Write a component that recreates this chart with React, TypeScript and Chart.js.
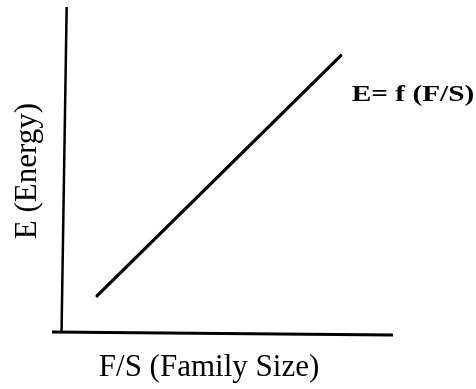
import { useEffect, useRef } from "react";
import { Chart, registerables } from "chart.js";

Chart.register(...registerables);

// Axis lines (diagram units, 0..100 on both axes)
const xAxisX = [0, 100];
const xAxisE = [0.9, 0];
const yAxisX = [2.8, 4.3];
const yAxisE = [0.9, 100];

// The function line E = f(F/S)
const fsValues = [13.2, 84.7];
const energyValues = [11.9, 85.2];

const functionLabel = "E= f (F/S)";
const xTitle = "F/S (Family Size)";
const yTitle = "E (Energy)";

const toPoints = (xs: number[], ys: number[]) => xs.map((x, i) => ({ x, y: ys[i] }));

const textPlugin = {
  id: "diagramText",
  afterDatasetsDraw(chart: any) {
    const { ctx, chartArea, scales } = chart;
    ctx.save();
    ctx.fillStyle = "#000";
    ctx.textBaseline = "alphabetic";

    // x title
    ctx.font = "31px 'Liberation Serif'";
    ctx.textAlign = "center";
    ctx.fillText(xTitle, chartArea.left + 157, chartArea.bottom + 41);

    // y title
    ctx.save();
    ctx.translate(36, (chartArea.top + chartArea.bottom) / 2);
    ctx.rotate(-Math.PI / 2);
    ctx.fillText(yTitle, 0, 0);
    ctx.restore();

    // function label, anchored to the end of the line
    const px = scales.x.getPixelForValue(fsValues[fsValues.length - 1]);
    const py = scales.y.getPixelForValue(energyValues[energyValues.length - 1]);
    ctx.save();
    ctx.translate(px + 11, py + 45.5);
    ctx.scale(1.22, 1);
    ctx.font = "bold 24px 'Liberation Serif'";
    ctx.textAlign = "left";
    ctx.fillText(functionLabel, 0, 0);
    ctx.restore();

    ctx.restore();
  },
};

export default function App() {
  const canvasRef = useRef<HTMLCanvasElement | null>(null);

  useEffect(() => {
    const canvas = canvasRef.current;
    if (!canvas) return;
    const chart = new Chart(canvas, {
      type: "scatter",
      data: {
        datasets: [
          {
            data: toPoints(xAxisX, xAxisE),
            showLine: true,
            borderColor: "#000",
            borderWidth: 3,
            pointRadius: 0,
            clip: false as any,
          },
          {
            data: toPoints(yAxisX, yAxisE),
            showLine: true,
            borderColor: "#000",
            borderWidth: 2.5,
            pointRadius: 0,
            clip: false as any,
          },
          {
            data: toPoints(fsValues, energyValues),
            showLine: true,
            borderColor: "#000",
            borderWidth: 3.2,
            borderCapStyle: "round",
            pointRadius: 0,
            clip: false as any,
          },
        ],
      },
      options: {
        animation: false,
        responsive: false,
        events: [],
        layout: { padding: { left: 52, right: 83, top: 7, bottom: 54 } },
        scales: {
          x: { type: "linear", min: 0, max: 100, display: false },
          y: { type: "linear", min: 0, max: 100, display: false },
        },
        plugins: {
          legend: { display: false },
          tooltip: { enabled: false },
        },
      },
      plugins: [textPlugin],
    });
    return () => chart.destroy();
  }, []);

  return (
    <div style={{ position: "absolute", left: 0, top: 0, width: 476, height: 389, background: "#fff" }}>
      <canvas ref={canvasRef} width={476} height={389} style={{ display: "block" }} />
    </div>
  );
}
